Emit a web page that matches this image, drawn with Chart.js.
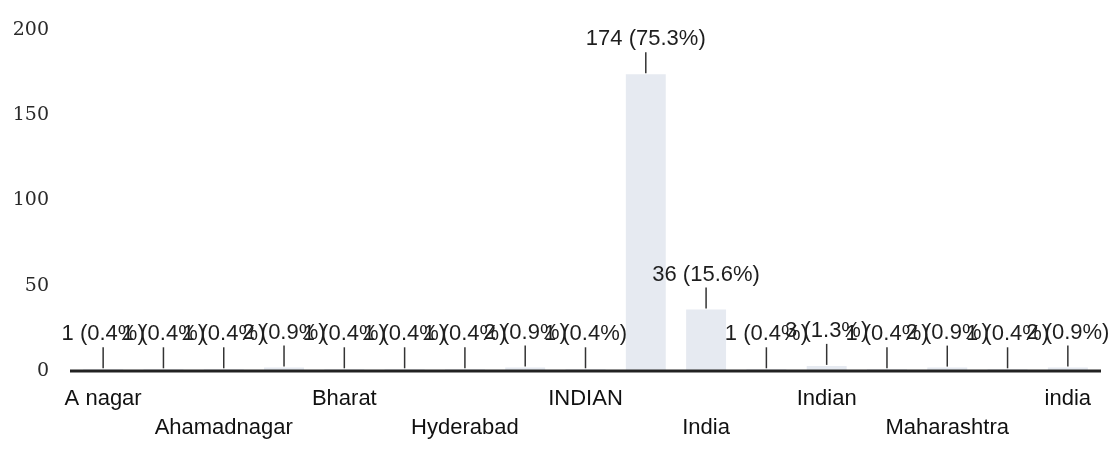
<!DOCTYPE html>
<html>
<head>
<meta charset="utf-8">
<script src="https://cdn.jsdelivr.net/npm/chart.js@4/dist/chart.umd.min.js"></script>
<style>
  html, body { margin: 0; padding: 0; background: #fff; }
  #wrap { width: 1112px; height: 450px; position: relative; }
</style>
</head>
<body>
<div id="wrap"><canvas id="chart"></canvas></div>
<script>
// ---- data ----
const categories = [
  "A nagar", "A.nagar", "Ahamadnagar", "Ahmednagar", "Bharat", "Hindu",
  "Hyderabad", "IND", "INDIAN", "Indain", "India", "India.", "Indian",
  "Karnataka", "Maharashtra", "Pune", "india"
];
const counts = [1, 1, 1, 2, 1, 1, 1, 2, 1, 174, 36, 1, 3, 1, 2, 1, 2];
const yTicks = [0, 50, 100, 150, 200];

const total = counts.reduce((a, b) => a + b, 0);

// labels "n (p%)" with a small leader line down to the bar top,
// plus the base line drawn over the bars
const valueLabels = {
  id: "valueLabels",
  afterDatasetsDraw(chart) {
    const ctx = chart.ctx;
    const area = chart.chartArea;
    const y0 = chart.scales.y.getPixelForValue(0);
    ctx.save();
    ctx.strokeStyle = "#222";
    ctx.lineWidth = 3;
    ctx.beginPath();
    ctx.moveTo(area.left - 3, y0);
    ctx.lineTo(area.right + 3, y0);
    ctx.stroke();

    const meta = chart.getDatasetMeta(0);
    ctx.font = "22px 'Liberation Sans', Arial, sans-serif";
    ctx.fillStyle = "#1e1e1e";
    ctx.strokeStyle = "#333";
    ctx.lineWidth = 1.5;
    ctx.textAlign = "center";
    ctx.textBaseline = "middle";
    meta.data.forEach((bar, i) => {
      const v = counts[i];
      const pct = (v / total * 100).toFixed(1);
      const top = bar.y;
      ctx.beginPath();
      ctx.moveTo(bar.x, top - 22);
      ctx.lineTo(bar.x, top - 1);
      ctx.stroke();
      ctx.fillText(`${v} (${pct}%)`, bar.x, top - 35);
    });
    ctx.restore();
  }
};

new Chart(document.getElementById("chart"), {
  type: "bar",
  data: {
    labels: categories,
    datasets: [{
      data: counts,
      backgroundColor: "#e6eaf1",
      borderWidth: 0,
      barPercentage: 0.72,
      categoryPercentage: 0.92
    }]
  },
  options: {
    responsive: true,
    maintainAspectRatio: false,
    animation: false,
    layout: { padding: { top: 30, right: 14, left: 0, bottom: 0 } },
    plugins: { legend: { display: false }, tooltip: { enabled: false } },
    scales: {
      x: {
        grid: { display: false, drawTicks: false },
        border: { display: false },
        afterFit: s => { s.height = 79; },
        ticks: {
          autoSkip: false,
          maxRotation: 0,
          padding: 14,
          color: "#111",
          font: { family: "'Liberation Sans', Arial, sans-serif", size: 22, lineHeight: 1.3 },
          callback: (val, i) => {
            if (i % 4 === 0) return categories[i];
            if (i % 4 === 2) return ["", categories[i]];
            return "";
          }
        }
      },
      y: {
        min: 0,
        max: 200,
        afterFit: s => { s.width = 73; s.paddingTop = 0; s.paddingBottom = 0; },
        afterBuildTicks: s => { s.ticks = yTicks.map(v => ({ value: v })); },
        grid: { display: false, drawTicks: false },
        border: { display: false },
        ticks: {
          padding: 24,
          color: "#2a2a2a",
          font: { family: "'DejaVu Serif', 'Liberation Serif', serif", size: 19 }
        }
      }
    }
  },
  plugins: [valueLabels]
});
</script>
</body>
</html>
